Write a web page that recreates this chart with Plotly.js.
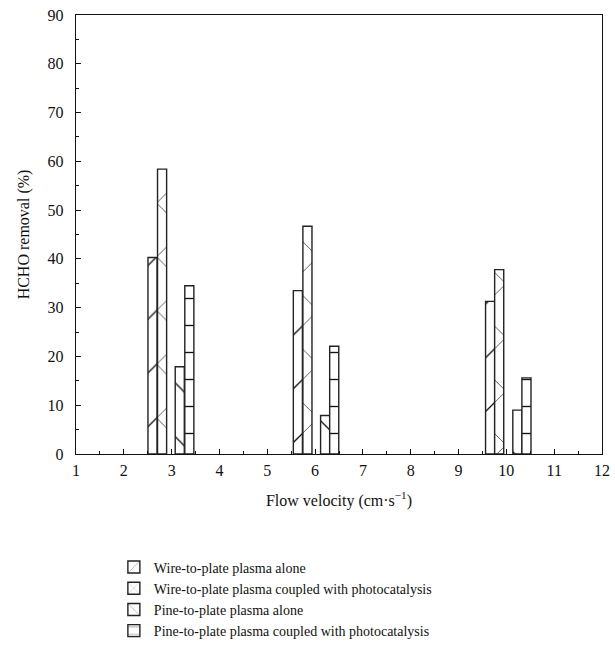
<!DOCTYPE html>
<html>
<head>
<meta charset="utf-8">
<script src="https://cdn.plot.ly/plotly-3.0.1.min.js"></script>
<style>html,body{margin:0;padding:0;background:#fff;}#chart{width:615px;height:646px;}</style>
</head>
<body>
<div id="chart"></div>
<script>
const seriesNames = [
  "Wire-to-plate plasma alone",
  "Wire-to-plate plasma coupled with photocatalysis",
  "Pine-to-plate plasma alone",
  "Pine-to-plate plasma coupled with photocatalysis"
];
const xWireAlone = [2.6, 5.64, 9.66];
const xWireCoupled = [2.8, 5.84, 9.85];
const xPineAlone = [3.17, 6.21, 10.23];
const xPineCoupled = [3.37, 6.40, 10.42];
const yWireAlone = [40.3, 33.5, 31.3];
const yWireCoupled = [58.4, 46.7, 37.8];
const yPineAlone = [17.9, 7.9, 9.0];
const yPineCoupled = [34.5, 22.1, 15.6];
const xTicks = [1,2,3,4,5,6,7,8,9,10,11,12];

const FONT = "Liberation Serif, Times New Roman, serif";
function mk(name, x, y, shape, size, sol) {
  return {
    type: "bar", name: name, x: x, y: y, width: 0.19,
    marker: {
      color: "white",
      line: {color: "#222", width: 1.4},
      pattern: {shape: shape, size: size, solidity: sol, fgcolor: "#111", bgcolor: "white", fillmode: "replace"}
    }
  };
}
const data = [
  mk(seriesNames[0], xWireAlone, yWireAlone, "/", 38, 0.035),
  mk(seriesNames[1], xWireCoupled, yWireCoupled, "x", 38, 0.035),
  mk(seriesNames[2], xPineAlone, yPineAlone, "\\", 38, 0.035),
  mk(seriesNames[3], xPineCoupled, yPineCoupled, "-", 27, 0.05)
];
const layout = {
  width: 615, height: 646,
  margin: {l: 76, r: 13, t: 15, b: 192, autoexpand: false},
  paper_bgcolor: "white", plot_bgcolor: "white",
  font: {family: FONT, size: 16, color: "#111"},
  barmode: "overlay",
  showlegend: true,
  legend: {x: 0.072, y: -0.222, xanchor: "left", yanchor: "top", orientation: "v",
           font: {family: FONT, size: 14, color: "#111"}, tracegroupgap: 0, itemwidth: 30,
           bgcolor: "rgba(0,0,0,0)"},
  xaxis: {
    range: [1, 12], tickmode: "array", tickvals: xTicks, ticktext: xTicks.map(String),
    ticks: "inside", ticklen: 5, tickwidth: 1, tickcolor: "#111",
    ticklabelstandoff: 2,
    minor: {dtick: 0.5, ticks: "inside", ticklen: 3, tickcolor: "#111"},
    showline: true, linecolor: "#111", linewidth: 1.2, mirror: true,
    showgrid: false, zeroline: false,
    title: {text: "Flow velocity (cm\u00b7s<sup>\u22121</sup>)", font: {family: FONT, size: 16}, standoff: 16}
  },
  yaxis: {
    range: [0, 90], dtick: 10,
    ticks: "inside", ticklen: 5, tickwidth: 1, tickcolor: "#111",
    ticklabelstandoff: 8,
    minor: {dtick: 5, ticks: "inside", ticklen: 3, tickcolor: "#111"},
    showline: true, linecolor: "#111", linewidth: 1.2, mirror: true,
    showgrid: false, zeroline: false,
    title: {text: "HCHO removal (%)", font: {family: FONT, size: 16}, standoff: 14}
  }
};
Plotly.newPlot("chart", data, layout, {displayModeBar: false, staticPlot: true});
</script>
</body>
</html>
